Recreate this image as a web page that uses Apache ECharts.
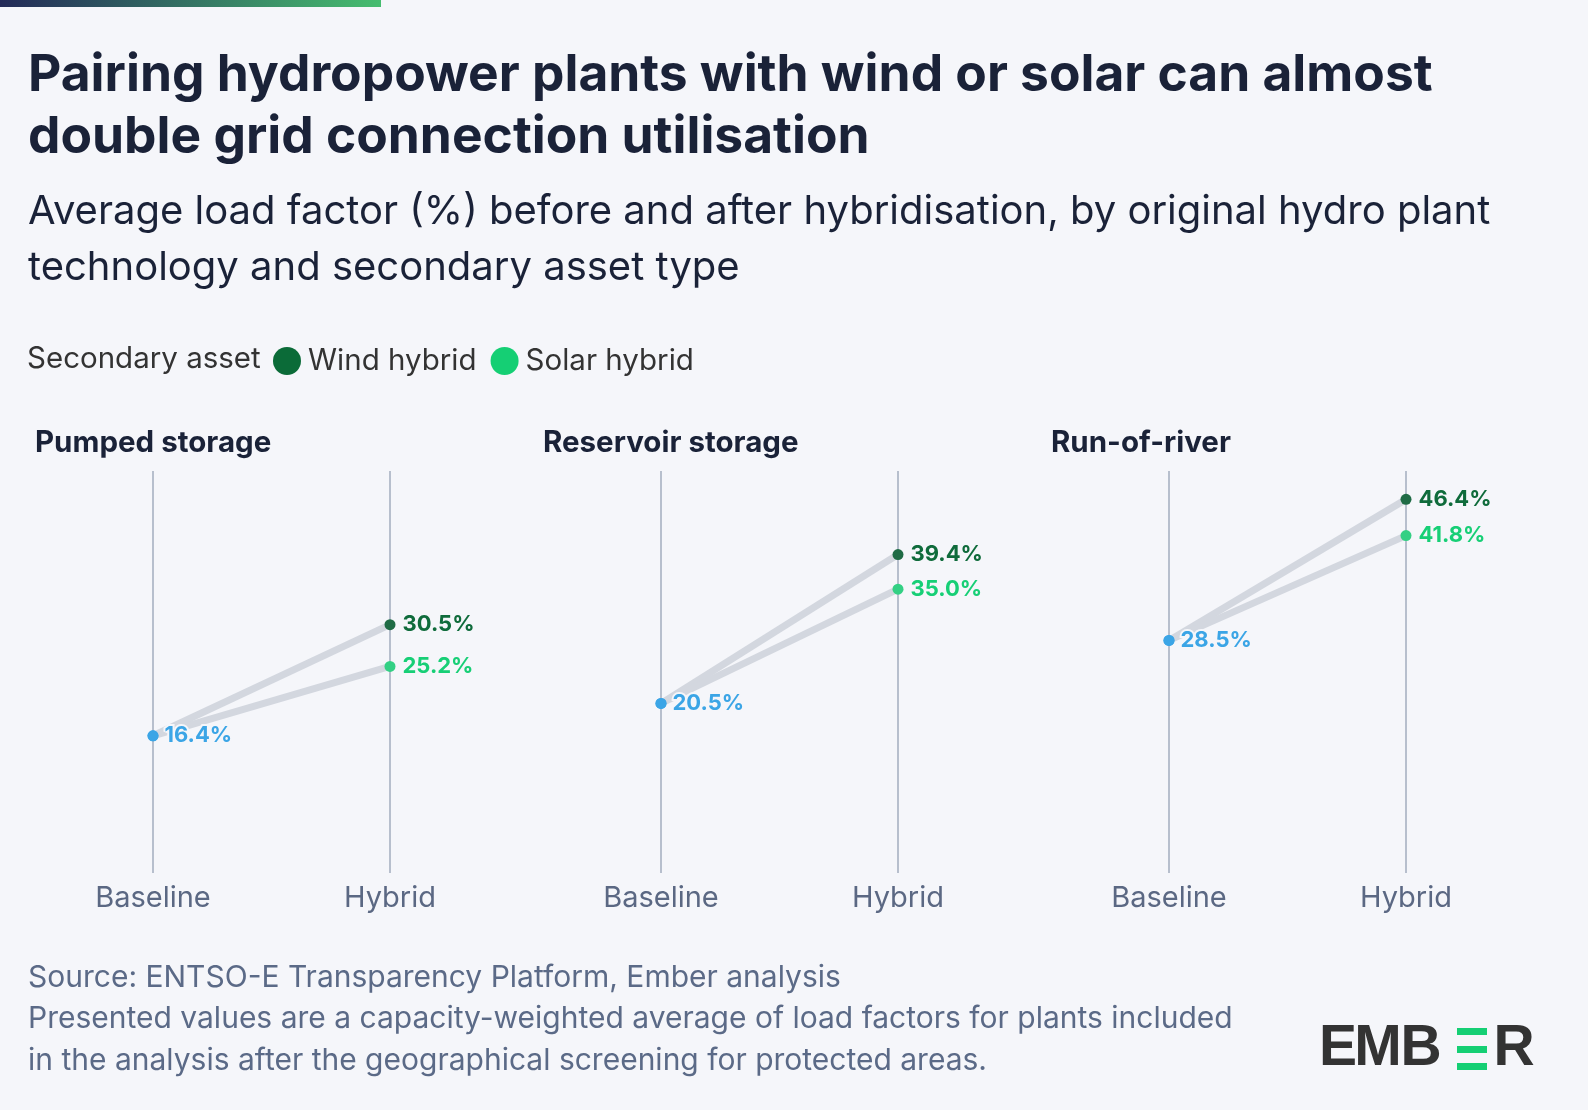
<!DOCTYPE html>
<html>
<head>
<meta charset="utf-8">
<script src="https://cdn.jsdelivr.net/npm/echarts@6/dist/echarts.min.js"></script>
<style>
  html, body { margin: 0; padding: 0; background: #f5f6fa; }
  #main { width: 1588px; height: 1110px; }
</style>
</head>
<body>
<div id="main"></div>
<script>
// data
var panels = ['Pumped storage', 'Reservoir storage', 'Run-of-river'];
var stages = ['Baseline', 'Hybrid'];
var baseline = [16.4, 20.5, 28.5];
var windHybrid = [30.5, 39.4, 46.4];
var solarHybrid = [25.2, 35.0, 41.8];
var yMax = 50;

var FONT = 'Inter';
var BG = '#f5f6fa';
var NAVY = '#1a2238';
var BLUE = '#3ba5e6';
var WIND = '#0f6b3b', WIND_DOT = '#1f6b45';
var SOLAR = '#17cf76', SOLAR_DOT = '#33d084';
var LINE_GREY = '#d3d7df';
var AXIS_GREY = '#b7bfcd';

var chart = echarts.init(document.getElementById('main'));

var gridLeft = [153, 661, 1169];
var grids = [], xAxes = [], yAxes = [], series = [], titles = [];

function pct(v) { return v.toFixed(1) + '%'; }

for (let i = 0; i < panels.length; i++) {
  grids.push({ left: gridLeft[i], top: 471, width: 237, height: 394 });
  xAxes.push({
    type: 'category', gridIndex: i, data: stages, boundaryGap: false,
    axisLine: { show: false },
    axisTick: { show: true, length: 8, alignWithLabel: true, lineStyle: { color: AXIS_GREY, width: 2 } },
    splitLine: { show: true, interval: 0, lineStyle: { color: AXIS_GREY, width: 2 } },
    axisLabel: { margin: 18, fontFamily: FONT, fontSize: 29, color: '#5b6883', lineHeight: 30 }
  });
  yAxes.push({ type: 'value', gridIndex: i, min: 0, max: yMax, show: false });

  titles.push({
    text: panels[i], left: gridLeft[i] - 118, top: 428, padding: 0,
    textStyle: { fontFamily: FONT, fontSize: 29.5, fontWeight: 'bold', color: NAVY, lineHeight: 30 }
  });

  // wind line
  series.push({
    name: 'Wind hybrid', type: 'line', xAxisIndex: i, yAxisIndex: i,
    symbol: 'circle', symbolSize: 11, silent: true,
    lineStyle: { color: LINE_GREY, width: 7 },
    itemStyle: { color: WIND_DOT },
    data: [
      { value: baseline[i], itemStyle: { color: BLUE } },
      { value: windHybrid[i], label: { show: true, position: 'right', distance: 7, formatter: pct(windHybrid[i]),
          fontFamily: FONT, fontSize: 22, fontWeight: 'bold', color: WIND } }
    ]
  });
  // solar line (carries baseline label on top)
  series.push({
    name: 'Solar hybrid', type: 'line', xAxisIndex: i, yAxisIndex: i,
    symbol: 'circle', symbolSize: 11, silent: true,
    lineStyle: { color: LINE_GREY, width: 7 },
    itemStyle: { color: SOLAR_DOT },
    data: [
      { value: baseline[i], itemStyle: { color: BLUE },
        label: { show: true, position: 'right', distance: 6, formatter: pct(baseline[i]),
          fontFamily: FONT, fontSize: 22, fontWeight: 'bold', color: BLUE,
          textBorderColor: BG, textBorderWidth: 4 } },
      { value: solarHybrid[i], label: { show: true, position: 'right', distance: 7, formatter: pct(solarHybrid[i]),
          fontFamily: FONT, fontSize: 22, fontWeight: 'bold', color: SOLAR } }
    ]
  });
}

titles.push({
  text: 'Pairing hydropower plants with wind or solar can almost\ndouble grid connection utilisation',
  left: 28, top: 45, padding: 0,
  textStyle: { fontFamily: FONT, fontSize: 51.5, fontWeight: 'bold', color: NAVY, lineHeight: 62 }
});
titles.push({
  text: 'Average load factor (%) before and after hybridisation, by original hydro plant\ntechnology and secondary asset type',
  left: 28, top: 184, padding: 0,
  textStyle: { fontFamily: FONT, fontSize: 40, fontWeight: 'normal', color: NAVY, lineHeight: 56 }
});
titles.push({
  text: 'Secondary asset', left: 27, top: 344, padding: 0,
  textStyle: { fontFamily: FONT, fontSize: 29.5, fontWeight: 'normal', color: '#333333', lineHeight: 30 }
});
titles.push({
  text: 'Source: ENTSO-E Transparency Platform, Ember analysis\nPresented values are a capacity-weighted average of load factors for plants included\nin the analysis after the geographical screening for protected areas.',
  left: 28, top: 957, padding: 0,
  textStyle: { fontFamily: FONT, fontSize: 30, fontWeight: 'normal', color: '#5b6a87', lineHeight: 41.5 }
});

var logoFont = 'bold 57px "Liberation Sans", Arial, sans-serif';
function logoLetter(ch, cx) {
  return { type: 'text', x: cx, y: 1049,
    style: { text: ch, font: logoFont, fill: '#333333', align: 'center', verticalAlign: 'middle',
      textAlign: 'center', textVerticalAlign: 'middle' } };
}

var option = {
  backgroundColor: BG,
  animation: false,
  title: titles,
  legend: {
    left: 273, top: 346, padding: 0,
    icon: 'circle', itemWidth: 28, itemHeight: 28, itemGap: 14,
    textStyle: { fontFamily: FONT, fontSize: 29.5, color: '#333333', padding: [0, 0, 0, 2] },
    data: [
      { name: 'Wind hybrid', itemStyle: { color: '#0b6b38', borderWidth: 0 } },
      { name: 'Solar hybrid', itemStyle: { color: '#15cf74', borderWidth: 0 } }
    ],
    selectedMode: false
  },
  grid: grids,
  xAxis: xAxes,
  yAxis: yAxes,
  series: series,
  graphic: [
    { type: 'rect', shape: { x: 0, y: 0, width: 381, height: 7 },
      style: { fill: new echarts.graphic.LinearGradient(0, 0, 1, 0, [
        { offset: 0, color: '#232a58' }, { offset: 1, color: '#46bd6f' }]) } },
    logoLetter('E', 1338),
    logoLetter('M', 1378),
    logoLetter('B', 1421),
    { type: 'rect', shape: { x: 1457, y: 1028, width: 30, height: 7 }, style: { fill: '#15cf74' } },
    { type: 'rect', shape: { x: 1457, y: 1046, width: 30, height: 7 }, style: { fill: '#15cf74' } },
    { type: 'rect', shape: { x: 1457, y: 1063, width: 30, height: 7 }, style: { fill: '#15cf74' } },
    logoLetter('R', 1514)
  ]
};
chart.setOption(option);
</script>
</body>
</html>
